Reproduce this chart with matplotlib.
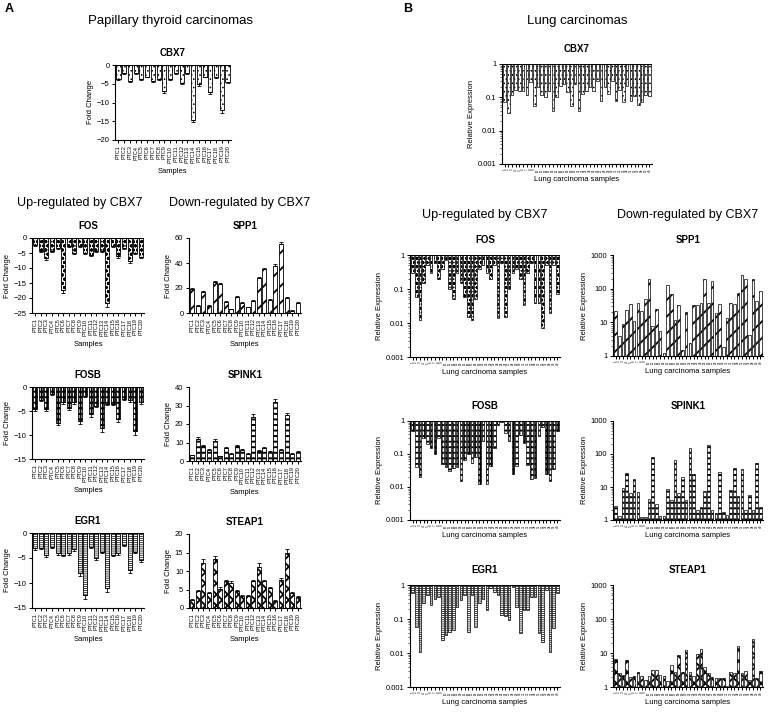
import matplotlib
matplotlib.use('Agg')
import matplotlib.pyplot as plt
from matplotlib.ticker import LogLocator, NullFormatter

plt.rcParams['font.family'] = ['Liberation Sans', 'DejaVu Sans']
plt.rcParams['hatch.linewidth'] = 0.7

# ---- data: papillary thyroid carcinomas (fold change) ----
ptc_samples = ['PTC%d' % i for i in range(1, 21)]

cbx7_ptc = [-3.7, -2.2, -4.2, -2.2, -3.6, -3.1, -4.2, -3.6, -6.9, -3.6,
            -2.2, -4.7, -2.2, -14.7, -5.1, -3.1, -7.1, -3.1, -12.0, -4.4]
cbx7_ptc_err = [0.3, 0.2, 0.3, 0.2, 0.3, 0.2, 0.3, 0.3, 0.5, 0.3,
                0.2, 0.3, 0.2, 0.6, 0.4, 0.2, 0.5, 0.3, 0.9, 0.5]

fos_ptc = [-2.2, -4.4, -6.7, -4.4, -3.3, -17.2, -2.8, -5.0, -2.8, -5.0,
           -5.5, -4.4, -4.4, -21.7, -2.8, -6.0, -3.3, -7.8, -5.0, -6.2]
fos_ptc_err = [0.3, 0.3, 0.5, 0.3, 0.3, 1.0, 0.2, 0.4, 0.2, 0.3,
               0.4, 0.3, 0.3, 1.2, 0.2, 0.6, 0.3, 0.5, 0.4, 0.5]

spp1_ptc = [19, 6, 17, 6, 25, 23, 9, 3, 12.5, 8,
            4.5, 10, 28, 35, 10.5, 38, 55, 12, 2, 8]
spp1_ptc_err = [1, 0.5, 1, 0.5, 1, 1, 0.5, 0.3, 0.8, 0.5,
                0.4, 0.6, 1.2, 1.2, 0.6, 1.5, 2, 0.8, 0.3, 0.5]

fosb_ptc = [-4.6, -2.8, -4.6, -1.4, -7.4, -3.2, -4.3, -3.2, -7.1, -1.8,
            -5.7, -3.9, -8.5, -3.5, -3.5, -6.7, -2.5, -2.8, -9.2, -3.2]
fosb_ptc_err = [0.4, 0.2, 0.4, 0.2, 0.6, 0.3, 0.4, 0.3, 0.6, 0.2,
                0.5, 0.3, 0.8, 0.3, 0.3, 0.6, 0.2, 0.3, 0.7, 0.3]

spink1_ptc = [3, 12, 8, 6, 11, 2.6, 7, 4, 8, 6,
              4, 24, 5.6, 7, 4.8, 32, 6, 25, 4, 5]
spink1_ptc_err = [0.5, 1, 0.8, 0.5, 0.8, 0.3, 0.6, 0.4, 0.6, 0.5,
                  0.4, 1.2, 0.5, 0.6, 0.4, 1.5, 0.5, 1.2, 0.4, 0.5]

egr1_ptc = [-3.0, -3.0, -4.3, -2.7, -4.0, -4.3, -4.0, -3.2, -8.0, -12.3,
            -2.7, -5.0, -3.7, -11.0, -4.3, -4.0, -2.3, -7.3, -3.7, -5.3]
egr1_ptc_err = [0.3, 0.2, 0.4, 0.3, 0.3, 0.3, 0.3, 0.3, 0.5, 0.8,
                0.3, 0.4, 0.3, 0.7, 0.3, 0.3, 0.2, 0.6, 0.3, 0.4]

steap1_ptc = [2.2, 4.5, 12.2, 4.0, 13.2, 5.2, 7.2, 6.8, 4.5, 3.3,
              3.2, 7.2, 11.2, 7.2, 5.4, 2.0, 7.5, 15.0, 4.0, 3.0]
steap1_ptc_err = [0.2, 0.4, 1.0, 0.4, 0.8, 0.4, 0.4, 0.4, 0.4, 0.2,
                  0.2, 0.5, 1.0, 0.5, 0.4, 0.2, 0.5, 1.0, 0.4, 0.3]

# ---- data: lung carcinomas (relative expression) ----
lung_samples = ['%d' % i for i in range(1, 41)]

cbx7_lung = [0.07, 0.035, 0.12, 0.17, 0.15, 0.15, 0.12, 0.28, 0.055, 0.2,
             0.12, 0.1, 0.15, 0.04, 0.1, 0.22, 0.25, 0.14, 0.055, 0.25,
             0.04, 0.13, 0.15, 0.2, 0.15, 0.3, 0.08, 0.2, 0.13, 0.3,
             0.08, 0.17, 0.07, 0.22, 0.08, 0.11, 0.06, 0.07, 0.12, 0.11]

fos_lung = [0.3, 0.06, 0.012, 0.15, 0.5, 0.3, 0.6, 0.2, 0.4, 0.7,
            0.1, 0.05, 0.3, 0.15, 0.06, 0.015, 0.012, 0.05, 0.4, 0.5,
            0.3, 0.2, 0.5, 0.014, 0.6, 0.015, 0.1, 0.3, 0.4, 0.2,
            0.035, 0.3, 0.6, 0.04, 0.04, 0.007, 0.5, 0.02, 0.5, 0.07]

spp1_lung = [22, 4, 9, 24, 34, 11, 38, 21, 48, 190,
             7.6, 25, 5.7, 1.2, 125, 68, 11.5, 32, 1.5, 20,
             2.4, 32, 32, 38, 200, 38, 170, 19, 35, 1.8,
             13, 38, 35, 75, 250, 190, 4.3, 190, 43, 85]

fosb_lung = [0.5, 0.04, 0.02, 0.3, 0.2, 0.15, 0.1, 0.3, 0.05, 0.04,
             0.03, 0.038, 0.04, 0.015, 0.068, 0.1, 0.054, 0.08, 0.012, 0.25,
             0.012, 0.043, 0.15, 0.75, 0.95, 0.43, 0.24, 0.024, 0.043, 0.38,
             0.21, 0.048, 0.017, 0.019, 0.34, 0.68, 0.024, 0.015, 0.034, 0.5]

spink1_lung = [2.6, 1.3, 9.5, 27, 6.8, 18, 7, 1.2, 1.2, 4.2,
               83, 3, 1.3, 1.3, 9, 4, 66, 6.6, 20, 4,
               150, 25, 2, 2.5, 7.4, 185, 2, 1.6, 28, 1.8,
               1.4, 8, 38, 5.2, 35, 2, 5.6, 2, 52, 2.5]

egr1_lung = [0.6, 0.06, 0.011, 0.3, 0.5, 0.25, 0.4, 0.45, 0.024, 0.034,
             0.042, 0.047, 0.23, 0.36, 0.5, 0.042, 0.5, 0.06, 0.29, 0.4,
             0.18, 0.8, 0.64, 0.5, 0.13, 0.12, 0.095, 0.9, 0.23, 0.038,
             0.18, 0.18, 0.45, 0.45, 0.038, 0.021, 0.7, 0.011, 0.053, 0.6]

steap1_lung = [6.8, 2.5, 2.3, 6.4, 2.0, 2.1, 2.8, 2.1, 1.6, 2.1,
               3.2, 3.2, 2.2, 2.1, 1.5, 4.4, 2.8, 8.5, 2.8, 12,
               2.8, 2.1, 9.5, 13.5, 3.9, 2.5, 2.0, 1.9, 1.8, 1.8,
               1.1, 2.8, 2.5, 16, 2.5, 3.0, 1.6, 26, 1.8, 2.9]

# hatch pattern and hatch line width for each gene
patterns = {
    'CBX7': ('....', 0.6),
    'FOS': ('oooo', 1.0),
    'SPP1': ('//', 1.3),
    'FOSB': ('+++', 1.3),
    'SPINK1': ('---', 1.4),
    'EGR1': ('--------', 0.5),
    'STEAP1': ('xxx', 1.3),
}

W, H = 768, 714
fig = plt.figure(figsize=(W / 100, H / 100), dpi=100)


def box(x0, x1, y0, y1):
    return [x0 / W, 1 - y1 / H, (x1 - x0) / W, (y1 - y0) / H]


def ftext(x, y, s, **kw):
    fig.text(x / W, 1 - y / H, s, ha=kw.pop('ha', 'center'), va=kw.pop('va', 'center'), **kw)


def base_style(ax):
    for s in ['top', 'right']:
        ax.spines[s].set_visible(False)
    for s in ['left', 'bottom']:
        ax.spines[s].set_linewidth(0.8)
    ax.tick_params(direction='out', length=2.5, width=0.7, labelsize=5.5, pad=1.5)


def hatched_bars(ax, x, heights, title, bottom=0, width=0.72, lw=0.6, **kw):
    hatch, hlw = patterns[title]
    with plt.rc_context({'hatch.linewidth': hlw}):
        bars = ax.bar(x, heights, bottom=bottom, width=width, color='white',
                      edgecolor='black', linewidth=lw, hatch=hatch, **kw)
    for p in bars.patches:
        if hasattr(p, 'set_hatch_linewidth'):
            p.set_hatch_linewidth(hlw)
    return bars


def ptc_panel(px, vals, errs, title, ylim, yticks):
    ax = fig.add_axes(box(*px))
    x = range(len(vals))
    lower = [e if v < 0 else 0 for v, e in zip(vals, errs)]
    upper = [e if v > 0 else 0 for v, e in zip(vals, errs)]
    hatched_bars(ax, x, vals, title, yerr=[lower, upper],
                 error_kw=dict(elinewidth=0.6, capsize=1.2, capthick=0.6, ecolor='black'))
    ax.set_xlim(-0.6, len(vals) - 0.4)
    ax.set_ylim(*ylim)
    ax.set_yticks(yticks)
    ax.set_xticks(list(x))
    ax.set_xticklabels(ptc_samples, rotation=90, fontsize=4)
    if ylim[1] == 0:
        ax.axhline(0, color='black', lw=0.8)
    base_style(ax)
    ax.tick_params(axis='x', labelsize=4, length=2.5)
    ax.set_ylabel('Fold Change', fontsize=5.5, labelpad=2)
    ax.set_xlabel('Samples', fontsize=5.5, labelpad=4)
    ftext((px[0] + px[1]) / 2, px[2] - 12, title, fontsize=7, fontweight='bold')
    return ax


def lung_panel(px, vals, title, down):
    ax = fig.add_axes(box(*px))
    ax.set_yscale('log')
    x = range(len(vals))
    hatched_bars(ax, x, [v - 1 for v in vals], title, bottom=1, width=0.7, lw=0.5)
    ax.set_xlim(-0.7, len(vals) - 0.3)
    if down:
        ax.set_ylim(0.001, 1)
        ax.set_yticks([1, 0.1, 0.01, 0.001])
        ax.set_yticklabels(['1', '0.1', '0.01', '0.001'])
        ax.axhline(1, color='black', lw=0.8)
    else:
        ax.set_ylim(1, 1000)
        ax.set_yticks([1, 10, 100, 1000])
        ax.set_yticklabels(['1', '10', '100', '1000'])
    ax.yaxis.set_minor_locator(LogLocator(base=10, subs=range(2, 10)))
    ax.yaxis.set_minor_formatter(NullFormatter())
    ax.tick_params(axis='y', which='minor', length=1.3, width=0.4)
    ax.set_xticks(list(x))
    ax.set_xticklabels(lung_samples, rotation=90)
    base_style(ax)
    ax.tick_params(axis='x', labelsize=2.2, length=2.5, pad=1)
    ax.set_ylabel('Relative Expression', fontsize=5.5, labelpad=2)
    ax.set_xlabel('Lung carcinoma samples', fontsize=5.5, labelpad=3)
    ftext((px[0] + px[1]) / 2, px[2] - 15, title, fontsize=7, fontweight='bold')
    return ax


# panel letters and headers
ftext(5, 9, 'A', fontsize=9, fontweight='bold', ha='left')
ftext(403, 9, 'B', fontsize=9, fontweight='bold', ha='left')
ftext(170, 21, 'Papillary thyroid carcinomas', fontsize=9.5)
ftext(577, 21, 'Lung carcinomas', fontsize=9.5)
ftext(80, 203, 'Up-regulated by CBX7', fontsize=9)
ftext(240, 203, 'Down-regulated by CBX7', fontsize=9)
ftext(485, 215, 'Up-regulated by CBX7', fontsize=9)
ftext(688, 215, 'Down-regulated by CBX7', fontsize=9)

# papillary thyroid carcinomas
ptc_panel((115, 231, 65, 140), cbx7_ptc, cbx7_ptc_err, 'CBX7', (-20, 0), [0, -5, -10, -15, -20])
ptc_panel((32, 144, 238, 313), fos_ptc, fos_ptc_err, 'FOS', (-25, 0), [0, -5, -10, -15, -20, -25])
ptc_panel((189, 301, 238, 313), spp1_ptc, spp1_ptc_err, 'SPP1', (0, 60), [0, 20, 40, 60])
ptc_panel((32, 144, 387, 459), fosb_ptc, fosb_ptc_err, 'FOSB', (-15, 0), [0, -5, -10, -15])
ptc_panel((189, 301, 387, 461), spink1_ptc, spink1_ptc_err, 'SPINK1', (0, 40), [0, 10, 20, 30, 40])
ptc_panel((32, 144, 533, 608), egr1_ptc, egr1_ptc_err, 'EGR1', (-15, 0), [0, -5, -10, -15])
ptc_panel((189, 301, 534, 608), steap1_ptc, steap1_ptc_err, 'STEAP1', (0, 20), [0, 5, 10, 15, 20])

# lung carcinomas
lung_panel((502, 652, 64, 164), cbx7_lung, 'CBX7', True)
lung_panel((410, 560, 255, 357), fos_lung, 'FOS', True)
lung_panel((613, 763, 255, 356), spp1_lung, 'SPP1', False)
lung_panel((410, 560, 421, 520), fosb_lung, 'FOSB', True)
lung_panel((613, 763, 421, 520), spink1_lung, 'SPINK1', False)
lung_panel((410, 560, 585, 687), egr1_lung, 'EGR1', True)
lung_panel((613, 763, 585, 687), steap1_lung, 'STEAP1', False)

fig.savefig('out.png', dpi=100)
